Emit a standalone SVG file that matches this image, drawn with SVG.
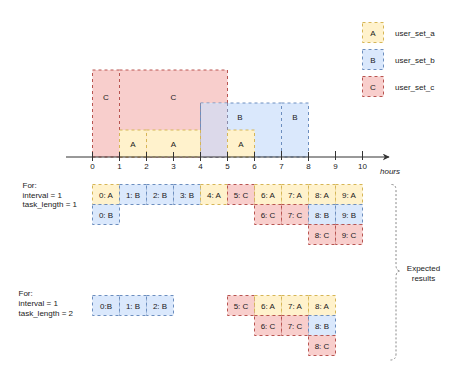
<svg xmlns="http://www.w3.org/2000/svg" width="474" height="387" viewBox="0 0 474 387">
<defs>
<style>
text{font-family:"Liberation Sans",Arial,sans-serif;font-size:8px;fill:#1a1a1a}
.c{text-anchor:middle}
.a{fill:#fff2cc;stroke:#d6b656;stroke-dasharray:3 3}
.b{fill:#dae8fc;stroke:#6c8ebf;stroke-dasharray:3 3}
.r{fill:#f8cecc;stroke:#b85450;stroke-dasharray:3 3}
.ov{fill:#dcd9ea;stroke:none}
.ax{stroke:#333;stroke-width:1;fill:none}
.brace{stroke:#888;stroke-dasharray:2 2;fill:none}
</style>
<marker id="arr" viewBox="0 0 10 10" refX="9" refY="5" markerWidth="7" markerHeight="7" orient="auto" markerUnits="userSpaceOnUse"><path d="M0,0 L10,5 L0,10 L3,5 Z" fill="#333"/></marker>
</defs>
<rect width="474" height="387" fill="#fff"/>

<g id="timeline">
<rect class="r" x="92.5" y="70" width="27" height="87"/>
<text class="c" x="106" y="100">C</text>
<rect class="r" x="119.5" y="70" width="108" height="87"/>
<text class="c" x="173.5" y="100">C</text>
<rect class="b" x="200.5" y="103" width="81" height="54"/>
<rect class="ov" x="201" y="103.5" width="26" height="53.5"/>
<line x1="200.5" y1="103" x2="200.5" y2="157" stroke="#8a8aa8" stroke-dasharray="3 3"/>
<line x1="227.5" y1="103" x2="227.5" y2="130" stroke="#8a8aa8" stroke-dasharray="3 3"/>
<text class="c" x="240" y="120">B</text>
<rect class="b" x="281.5" y="103" width="27" height="54"/>
<text class="c" x="295" y="120">B</text>
<rect class="a" x="119.5" y="130" width="27" height="27"/>
<text class="c" x="133" y="146.5">A</text>
<rect class="a" x="146.5" y="130" width="54" height="27"/>
<text class="c" x="173.5" y="146.5">A</text>
<rect class="a" x="227.5" y="130" width="27" height="27"/>
<text class="c" x="241" y="146.5">A</text>
</g>

<g id="axis">
<line class="ax" x1="66" y1="157" x2="389" y2="157" marker-end="url(#arr)"/>
<path class="ax" d="M92.5,152V161M119.5,152V161M146.5,152V161M173.5,152V161M200.5,152V161M227.5,152V161M254.5,152V161M281.5,151V160M308.5,152V161M335.5,151V160M362.5,151V160"/>
<text class="c" x="92.5" y="169">0</text>
<text class="c" x="119.5" y="169">1</text>
<text class="c" x="146.5" y="169">2</text>
<text class="c" x="173.5" y="169">3</text>
<text class="c" x="200.5" y="169">4</text>
<text class="c" x="227.5" y="169">5</text>
<text class="c" x="254.5" y="169">6</text>
<text class="c" x="281.5" y="169">7</text>
<text class="c" x="308.5" y="169">8</text>
<text class="c" x="335.5" y="169">9</text>
<text class="c" x="362.5" y="169">10</text>
<text x="380" y="174" font-style="italic">hours</text>
</g>

<g id="legend">
<rect class="a" x="362.5" y="22.5" width="21" height="20"/>
<text class="c" x="373" y="35.5">A</text>
<text x="395" y="36">user_set_a</text>
<rect class="b" x="362.5" y="49.5" width="21" height="20"/>
<text class="c" x="373" y="62.5">B</text>
<text x="395" y="63">user_set_b</text>
<rect class="r" x="362.5" y="76.5" width="21" height="20"/>
<text class="c" x="373" y="89.5">C</text>
<text x="395" y="90">user_set_c</text>
</g>

<g id="case1">
<text x="22.5" y="188">For:</text>
<text x="22.5" y="197.5">interval = 1</text>
<text x="22.5" y="207">task_length = 1</text>
<rect class="a" x="92.5" y="184.5" width="27" height="20"/><text class="c" x="106" y="197.5">0: A</text>
<rect class="b" x="119.5" y="184.5" width="27" height="20"/><text class="c" x="133" y="197.5">1: B</text>
<rect class="b" x="146.5" y="184.5" width="27" height="20"/><text class="c" x="160" y="197.5">2: B</text>
<rect class="b" x="173.5" y="184.5" width="27" height="20"/><text class="c" x="187" y="197.5">3: B</text>
<rect class="a" x="200.5" y="184.5" width="27" height="20"/><text class="c" x="214" y="197.5">4: A</text>
<rect class="r" x="227.5" y="184.5" width="27" height="20"/><text class="c" x="241" y="197.5">5: C</text>
<rect class="a" x="254.5" y="184.5" width="27" height="20"/><text class="c" x="268" y="197.5">6: A</text>
<rect class="a" x="281.5" y="184.5" width="27" height="20"/><text class="c" x="295" y="197.5">7: A</text>
<rect class="a" x="308.5" y="184.5" width="27" height="20"/><text class="c" x="322" y="197.5">8: A</text>
<rect class="a" x="335.5" y="184.5" width="27" height="20"/><text class="c" x="349" y="197.5">9: A</text>
<rect class="b" x="92.5" y="204.5" width="27" height="20"/><text class="c" x="106" y="217.5">0: B</text>
<rect class="r" x="254.5" y="204.5" width="27" height="20"/><text class="c" x="268" y="217.5">6: C</text>
<rect class="r" x="281.5" y="204.5" width="27" height="20"/><text class="c" x="295" y="217.5">7: C</text>
<rect class="b" x="308.5" y="204.5" width="27" height="20"/><text class="c" x="322" y="217.5">8: B</text>
<rect class="b" x="335.5" y="204.5" width="27" height="20"/><text class="c" x="349" y="217.5">9: B</text>
<rect class="r" x="308.5" y="224.5" width="27" height="20"/><text class="c" x="322" y="237.5">8: C</text>
<rect class="r" x="335.5" y="224.5" width="27" height="20"/><text class="c" x="349" y="237.5">9: C</text>
</g>

<g id="case2">
<text x="18.5" y="295.5">For:</text>
<text x="18.5" y="305.5">interval = 1</text>
<text x="18.5" y="315.5">task_length = 2</text>
<rect class="b" x="92.5" y="295.5" width="27" height="20"/><text class="c" x="106" y="308.5">0:B</text>
<rect class="b" x="119.5" y="295.5" width="27" height="20"/><text class="c" x="133" y="308.5">1: B</text>
<rect class="b" x="146.5" y="295.5" width="27" height="20"/><text class="c" x="160" y="308.5">2: B</text>
<rect class="r" x="227.5" y="295.5" width="27" height="20"/><text class="c" x="241" y="308.5">5: C</text>
<rect class="a" x="254.5" y="295.5" width="27" height="20"/><text class="c" x="268" y="308.5">6: A</text>
<rect class="a" x="281.5" y="295.5" width="27" height="20"/><text class="c" x="295" y="308.5">7: A</text>
<rect class="a" x="308.5" y="295.5" width="27" height="20"/><text class="c" x="322" y="308.5">8: A</text>
<rect class="r" x="254.5" y="315.5" width="27" height="20"/><text class="c" x="268" y="328.5">6: C</text>
<rect class="r" x="281.5" y="315.5" width="27" height="20"/><text class="c" x="295" y="328.5">7: C</text>
<rect class="b" x="308.5" y="315.5" width="27" height="20"/><text class="c" x="322" y="328.5">8: B</text>
<rect class="r" x="308.5" y="335.5" width="27" height="20"/><text class="c" x="322" y="348.5">8: C</text>
</g>

<g id="expected">
<path class="brace" d="M391.5,184.5 Q396,184.5 396,190 L396,265 Q396,271 400.5,271 Q396,271 396,277 L396,354 Q396,360 390.5,360"/>
<text class="c" x="423.5" y="270.5">Expected</text>
<text class="c" x="423.5" y="281">results</text>
</g>
</svg>
